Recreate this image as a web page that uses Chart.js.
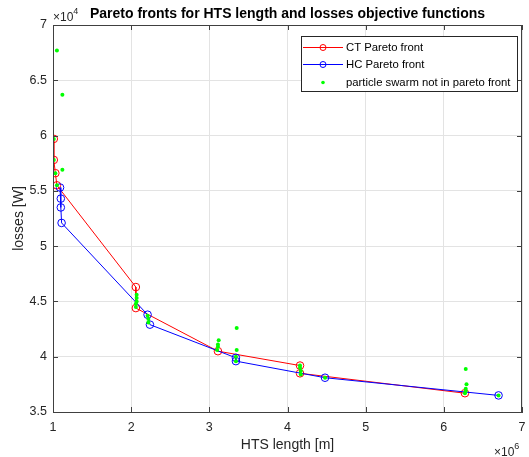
<!DOCTYPE html>
<html lang="en">
<head>
    <meta charset="UTF-8">
    <title>Pareto fronts</title>
    <script src="https://cdn.jsdelivr.net/npm/chart.js"></script>
    <style>
        html, body { margin: 0; padding: 0; background: #fff; }
        #wrap { width: 529px; height: 457px; }
    </style>
</head>
<body>
    <div id="wrap"><canvas id="paretoChart" width="529" height="457"></canvas></div>

    <script>
        // values (length in m, losses in W)
        const ctLength = [1.01e6, 1.01e6, 1.03e6, 1.05e6, 2.06e6, 2.06e6, 3.11e6, 4.16e6, 4.16e6, 6.27e6];
        const ctLosses = [59700, 57800, 56600, 55500, 46300, 44400, 40500, 39200, 38500, 36700];

        const hcLength = [1.09e6, 1.10e6, 1.10e6, 1.11e6, 2.21e6, 2.24e6, 3.34e6, 3.34e6, 4.48e6, 6.70e6];
        const hcLosses = [55300, 54300, 53500, 52100, 43800, 42900, 39900, 39600, 38100, 36500];

        const swarmLength = [1.05e6, 1.12e6, 1.12e6, 1.01e6, 1.01e6, 1.03e6, 1.05e6,
            2.07e6, 2.07e6, 2.07e6, 2.06e6, 2.06e6, 2.21e6, 2.22e6, 2.22e6,
            3.12e6, 3.11e6, 3.11e6, 3.10e6, 3.35e6, 3.35e6, 3.34e6, 3.34e6,
            4.16e6, 4.16e6, 4.17e6, 4.17e6, 4.48e6,
            6.28e6, 6.29e6, 6.28e6, 6.28e6, 6.27e6, 6.70e6];
        const swarmLosses = [67700, 63700, 56900, 59700, 57800, 56600, 55500,
            45600, 45300, 45000, 44800, 44500, 43700, 43400, 43100,
            41500, 41100, 40900, 40600, 42600, 40600, 40000, 39600,
            39200, 39000, 38700, 38400, 38100,
            38900, 37500, 37100, 36900, 36700, 36500];

        const xTicks = [1, 2, 3, 4, 5, 6, 7];
        const yTicks = [3.5, 4, 4.5, 5, 5.5, 6, 6.5, 7];

        const font = "'Liberation Sans', Arial, sans-serif";
        const axisColor = '#404040';

        function toPoints(xs, ys) {
            return xs.map((x, i) => ({ x: x, y: ys[i] }));
        }

        // title, exponents, box, inner ticks and legend in matlab style
        const matlabDecor = {
            id: 'matlabDecor',
            afterDraw(chart) {
                const ctx = chart.ctx;
                const a = chart.chartArea;
                const xs = chart.scales.x, ys = chart.scales.y;
                ctx.save();

                // inner ticks on all four sides
                ctx.strokeStyle = axisColor;
                ctx.lineWidth = 1;
                ctx.beginPath();
                xTicks.forEach(t => {
                    const px = Math.round(xs.getPixelForValue(t * 1e6)) + 0.5;
                    ctx.moveTo(px, a.bottom); ctx.lineTo(px, a.bottom - 5);
                    ctx.moveTo(px, a.top); ctx.lineTo(px, a.top + 5);
                });
                yTicks.forEach(t => {
                    const py = Math.round(ys.getPixelForValue(t * 1e4)) + 0.5;
                    ctx.moveTo(a.left, py); ctx.lineTo(a.left + 5, py);
                    ctx.moveTo(a.right, py); ctx.lineTo(a.right - 5, py);
                });
                ctx.stroke();
                ctx.strokeRect(Math.round(a.left) + 0.5, Math.round(a.top) + 0.5,
                    Math.round(a.right - a.left) - 1, Math.round(a.bottom - a.top));

                // title
                ctx.fillStyle = '#000';
                ctx.font = 'bold 14px ' + font;
                ctx.textAlign = 'center';
                ctx.textBaseline = 'middle';
                ctx.fillText('Pareto fronts for HTS length and losses objective functions', (a.left + a.right) / 2, 14);

                // exponent labels
                ctx.fillStyle = '#262626';
                ctx.textAlign = 'left';
                ctx.textBaseline = 'alphabetic';
                ctx.font = '12px ' + font;
                ctx.fillText('\u00d710', 53, 21);
                let w = ctx.measureText('\u00d710').width;
                ctx.font = '9px ' + font;
                ctx.fillText('4', 53 + w, 14);

                ctx.font = '12px ' + font;
                ctx.fillText('\u00d710', 494, 456);
                w = ctx.measureText('\u00d710').width;
                ctx.font = '9px ' + font;
                ctx.fillText('6', 494 + w, 449);

                // legend
                const lx = 301, ly = 36, lw = 216, lh = 55;
                ctx.fillStyle = '#fff';
                ctx.fillRect(lx, ly, lw, lh);
                ctx.strokeStyle = '#262626';
                ctx.strokeRect(lx + 0.5, ly + 0.5, lw, lh);
                const items = chart.data.datasets;
                const rows = [47, 64, 82];
                ctx.font = '11.3px ' + font;
                ctx.textBaseline = 'middle';
                items.forEach((ds, i) => {
                    const y = rows[i];
                    if (ds.showLine) {
                        ctx.strokeStyle = ds.borderColor;
                        ctx.beginPath();
                        ctx.moveTo(303, y + 0.5); ctx.lineTo(343, y + 0.5);
                        ctx.stroke();
                        ctx.beginPath();
                        ctx.arc(323, y + 0.5, 3, 0, Math.PI * 2);
                        ctx.stroke();
                    } else {
                        ctx.fillStyle = ds.backgroundColor;
                        ctx.beginPath();
                        ctx.arc(323, y + 0.5, 1.8, 0, Math.PI * 2);
                        ctx.fill();
                    }
                    ctx.fillStyle = '#000';
                    ctx.fillText(ds.label, 346, y + 1);
                });
                ctx.restore();
            }
        };

        const ctx = document.getElementById('paretoChart').getContext('2d');
        new Chart(ctx, {
            type: 'scatter',
            data: {
                datasets: [
                    {
                        label: 'CT Pareto front',
                        data: toPoints(ctLength, ctLosses),
                        showLine: true,
                        borderColor: '#ff0000',
                        backgroundColor: 'rgba(0,0,0,0)',
                        borderWidth: 1,
                        pointRadius: 3.8,
                        pointBorderWidth: 1,
                        pointBorderColor: '#ff0000',
                        order: 2
                    },
                    {
                        label: 'HC Pareto front',
                        data: toPoints(hcLength, hcLosses),
                        showLine: true,
                        borderColor: '#0000ff',
                        backgroundColor: 'rgba(0,0,0,0)',
                        borderWidth: 1,
                        pointRadius: 3.8,
                        pointBorderWidth: 1,
                        pointBorderColor: '#0000ff',
                        order: 1
                    },
                    {
                        label: 'particle swarm not in pareto front',
                        data: toPoints(swarmLength, swarmLosses),
                        showLine: false,
                        backgroundColor: '#00ff00',
                        borderColor: '#00ff00',
                        borderWidth: 0,
                        pointRadius: 2,
                        order: 0
                    }
                ]
            },
            options: {
                responsive: false,
                animation: false,
                layout: { padding: { top: 25, right: 0, left: 0, bottom: 0 } },
                plugins: {
                    legend: { display: false },
                    tooltip: { enabled: false }
                },
                scales: {
                    x: {
                        type: 'linear',
                        min: 1e6,
                        max: 7e6,
                        afterBuildTicks: s => { s.ticks = xTicks.map(v => ({ value: v * 1e6 })); },
                        afterFit: s => { s.height = 45; s.paddingRight = 7; s.paddingLeft = 0; },
                        ticks: {
                            callback: v => String(v / 1e6),
                            color: '#262626',
                            font: { family: font, size: 12.5 },
                            padding: 8,
                            maxRotation: 0
                        },
                        grid: { color: '#e3e3e3', drawTicks: false },
                        border: { color: axisColor },
                        title: {
                            display: true,
                            text: 'HTS length [m]',
                            color: '#262626',
                            font: { family: font, size: 14 },
                            padding: { top: 2, bottom: 3 }
                        }
                    },
                    y: {
                        type: 'linear',
                        min: 35000,
                        max: 70000,
                        afterBuildTicks: s => { s.ticks = yTicks.map(v => ({ value: v * 1e4 })); },
                        afterFit: s => { s.width = 53; s.paddingTop = 0; s.paddingBottom = 0; },
                        ticks: {
                            callback: v => String(v / 1e4),
                            color: '#262626',
                            font: { family: font, size: 12.5 },
                            padding: 6
                        },
                        grid: { color: '#e3e3e3', drawTicks: false },
                        border: { color: axisColor },
                        title: {
                            display: true,
                            text: 'losses [W]',
                            color: '#262626',
                            font: { family: font, size: 14 },
                            padding: { top: 11, bottom: 0 }
                        }
                    }
                }
            },
            plugins: [matlabDecor]
        });
    </script>
</body>
</html>
